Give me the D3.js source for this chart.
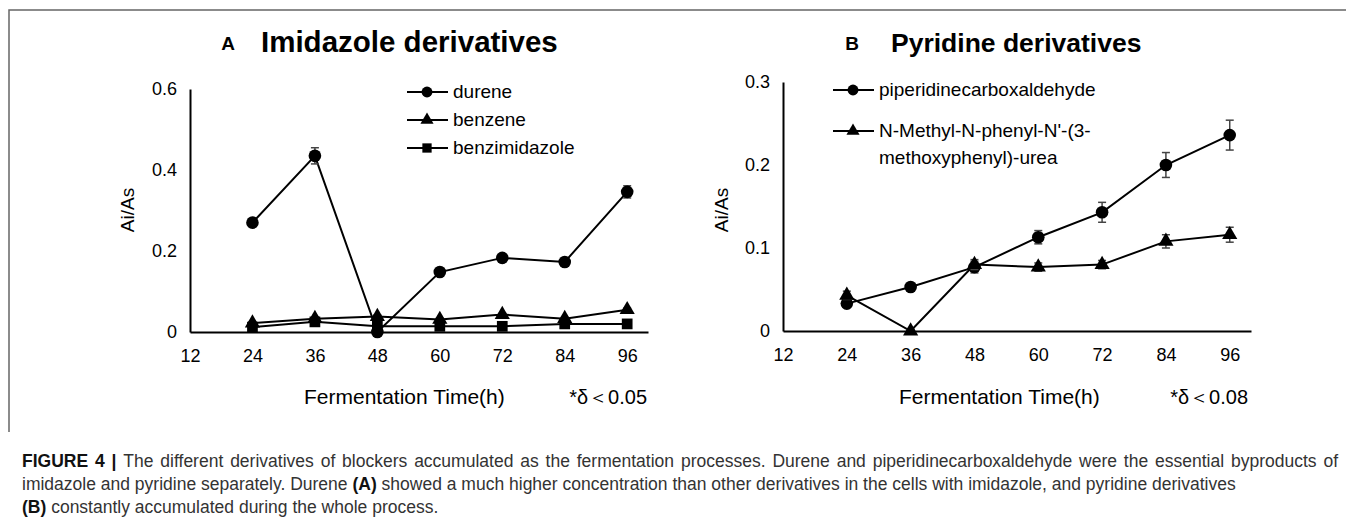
<!DOCTYPE html>
<html>
<head>
<meta charset="utf-8">
<script src="https://cdn.jsdelivr.net/npm/d3@7"></script>
<style>
  body { margin: 0; background: #fff; }
  svg { display: block; font-family: "Liberation Sans", Arial, sans-serif; }
  .axis path { stroke: #000; stroke-width: 2px; }
  .axis text { font-size: 18px; fill: #000; font-family: "Liberation Sans", Arial, sans-serif; }
</style>
</head>
<body>
<svg width="1346" height="521"></svg>
<script>
// sampling times (h) and axis ticks
var hours = [24, 36, 48, 60, 72, 84, 96];
var xTicks = [12, 24, 36, 48, 60, 72, 84, 96];
var yTicksA = [0, 0.2, 0.4, 0.6];
var yTicksB = [0, 0.1, 0.2, 0.3];

// A: imidazole derivatives (Ai/As)
var durene = [0.27, 0.435, 0, 0.148, 0.183, 0.173, 0.346];
var dureneErr = [0.01, 0.02, 0.003, 0.004, 0.006, 0.005, 0.015];
var benzene = [0.022, 0.033, 0.038, 0.031, 0.043, 0.033, 0.055];
var benzeneErr = [0.003, 0.003, 0.004, 0.003, 0.003, 0.003, 0.004];
var benzimidazole = [0.012, 0.025, 0.014, 0.014, 0.014, 0.02, 0.02];
var benzimidazoleErr = [0.003, 0.004, 0.003, 0.003, 0.003, 0.003, 0.003];

// B: pyridine derivatives (Ai/As)
var piperidine = [0.033, 0.053, 0.077, 0.113, 0.143, 0.2, 0.236];
var piperidineErr = [0.004, 0.003, 0.007, 0.008, 0.012, 0.015, 0.018];
var urea = [0.043, 0, 0.08, 0.077, 0.08, 0.108, 0.116];
var ureaErr = [0.005, 0.002, 0.006, 0.005, 0.005, 0.008, 0.009];

var svg = d3.select("svg");

// frame around the figure
svg.append("path")
    .attr("d", "M9,432V10H1346")
    .attr("fill", "none")
    .attr("stroke", "#666")
    .attr("stroke-width", 1.5);

var symbols = {circle: d3.symbolCircle, triangle: d3.symbolTriangle, square: d3.symbolSquare};
var sizes = {circle: 125, triangle: 100, square: 115};

function panel(opt) {
  var x = d3.scaleLinear().domain([12, 100]).range(opt.xRange),
      y = d3.scaleLinear().domain(opt.yDomain).range(opt.yRange);

  var g = svg.append("g");

  g.append("g")
      .attr("class", "axis")
      .attr("transform", "translate(0," + opt.yRange[0] + ")")
      .call(d3.axisBottom(x).tickValues(xTicks).tickSize(0).tickPadding(17).tickFormat(d3.format("d")));

  g.append("g")
      .attr("class", "axis")
      .attr("transform", "translate(" + opt.xRange[0] + ",0)")
      .call(d3.axisLeft(y).tickValues(opt.yTicks).tickSize(0).tickPadding(13).tickFormat(function(d) { return d === 0 ? "0" : d3.format(".1f")(d); }));

  // titles
  g.append("text")
      .attr("x", opt.letterX).attr("y", 50)
      .attr("text-anchor", "middle")
      .attr("font-weight", "bold").attr("font-size", 19)
      .text(opt.letter);
  g.append("text")
      .attr("x", opt.titleX).attr("y", 52)
      .attr("font-weight", "bold").attr("font-size", opt.titleSize)
      .text(opt.title);

  g.append("text")
      .attr("transform", "translate(" + opt.yLabelX + ",210) rotate(-90)")
      .attr("text-anchor", "middle")
      .attr("font-size", 19)
      .text("Ai/As");

  g.append("text")
      .attr("x", opt.xLabelX).attr("y", 404)
      .attr("font-size", 21)
      .text("Fermentation Time(h)");
  g.append("text")
      .attr("x", opt.noteX).attr("y", 404)
      .attr("text-anchor", "end")
      .attr("font-size", 20)
      .text(opt.note);

  var line = d3.line()
      .x(function(d) { return x(d.h); })
      .y(function(d) { return y(d.v); });

  opt.series.forEach(function(s) {
    var data = hours.map(function(h, i) { return {h: h, v: s.values[i], e: s.err[i]}; });

    g.append("path")
        .datum(data)
        .attr("fill", "none")
        .attr("stroke", "#000")
        .attr("stroke-width", 2)
        .attr("d", line);

    var eb = g.append("g").selectAll("g")
      .data(data)
      .enter().append("g")
        .attr("stroke", "#444")
        .attr("stroke-width", 1.5);
    eb.append("line")
        .attr("x1", function(d) { return x(d.h); })
        .attr("x2", function(d) { return x(d.h); })
        .attr("y1", function(d) { return y(d.v - d.e); })
        .attr("y2", function(d) { return y(d.v + d.e); });
    [-1, 1].forEach(function(sg) {
      eb.append("line")
          .attr("x1", function(d) { return x(d.h) - 4; })
          .attr("x2", function(d) { return x(d.h) + 4; })
          .attr("y1", function(d) { return y(d.v + sg * d.e); })
          .attr("y2", function(d) { return y(d.v + sg * d.e); });
    });

    g.append("g").selectAll("path")
      .data(data)
      .enter().append("path")
        .attr("transform", function(d) { return "translate(" + x(d.h) + "," + y(d.v) + ")"; })
        .attr("d", d3.symbol().type(symbols[s.shape]).size(sizes[s.shape]));
  });

  // legend
  opt.series.forEach(function(s, i) {
    var ly = opt.legendY[i];
    g.append("line")
        .attr("x1", opt.legendX).attr("x2", opt.legendX + 41)
        .attr("y1", ly).attr("y2", ly)
        .attr("stroke", "#000").attr("stroke-width", 2);
    g.append("path")
        .attr("transform", "translate(" + (opt.legendX + 20) + "," + ly + ")")
        .attr("d", d3.symbol().type(symbols[s.shape]).size(sizes[s.shape] * 0.75));
    var t = g.append("text")
        .attr("x", opt.legendX + 46).attr("y", ly + 6)
        .attr("font-size", 19);
    s.label.forEach(function(l, k) {
      t.append("tspan").attr("x", opt.legendX + 46).attr("dy", k ? 27 : 0).text(l);
    });
  });
}

panel({
  xRange: [190, 648], yRange: [332, 89], yDomain: [0, 0.6], yTicks: yTicksA,
  letter: "A", letterX: 228, title: "Imidazole derivatives", titleX: 261, titleSize: 29.5,
  yLabelX: 134, xLabelX: 304, noteX: 647, note: "*\u03b4\uff1c0.05",
  legendX: 407, legendY: [92, 120, 148],
  series: [
    {values: durene, err: dureneErr, shape: "circle", label: ["durene"]},
    {values: benzene, err: benzeneErr, shape: "triangle", label: ["benzene"]},
    {values: benzimidazole, err: benzimidazoleErr, shape: "square", label: ["benzimidazole"]}
  ]
});

panel({
  xRange: [783, 1251], yRange: [331, 82], yDomain: [0, 0.3], yTicks: yTicksB,
  letter: "B", letterX: 852, title: "Pyridine derivatives", titleX: 891, titleSize: 26.5,
  yLabelX: 728, xLabelX: 899, noteX: 1248, note: "*\u03b4\uff1c0.08",
  legendX: 833, legendY: [90, 131],
  series: [
    {values: piperidine, err: piperidineErr, shape: "circle", label: ["piperidinecarboxaldehyde"]},
    {values: urea, err: ureaErr, shape: "triangle", label: ["N-Methyl-N-phenyl-N'-(3-", "methoxyphenyl)-urea"]}
  ]
});

// caption, first line justified to the right edge
var caption = [
  [["FIGURE 4 | ", true], ["The different derivatives of blockers accumulated as the fermentation processes. Durene and piperidinecarboxaldehyde were the essential byproducts of", false]],
  [["imidazole and pyridine separately. Durene ", false], ["(A)", true], [" showed a much higher concentration than other derivatives in the cells with imidazole, and pyridine derivatives", false]],
  [["(B)", true], [" constantly accumulated during the whole process.", false]]
];
caption.forEach(function(parts, i) {
  var t = svg.append("text")
      .attr("x", 22).attr("y", 467 + i * 23)
      .attr("font-size", 17.5)
      .attr("fill", "#333");
  parts.forEach(function(p) {
    t.append("tspan")
        .attr("font-weight", p[1] ? "bold" : null)
        .attr("fill", p[1] ? "#111" : null)
        .text(p[0]);
  });
  if (i === 0) {
    var len = t.node().getComputedTextLength(),
        gaps = parts.map(function(p) { return p[0]; }).join("").split(" ").length - 1;
    t.attr("word-spacing", Math.max(0, (1338 - 22 - len) / gaps));
  }
});
</script>
</body>
</html>
